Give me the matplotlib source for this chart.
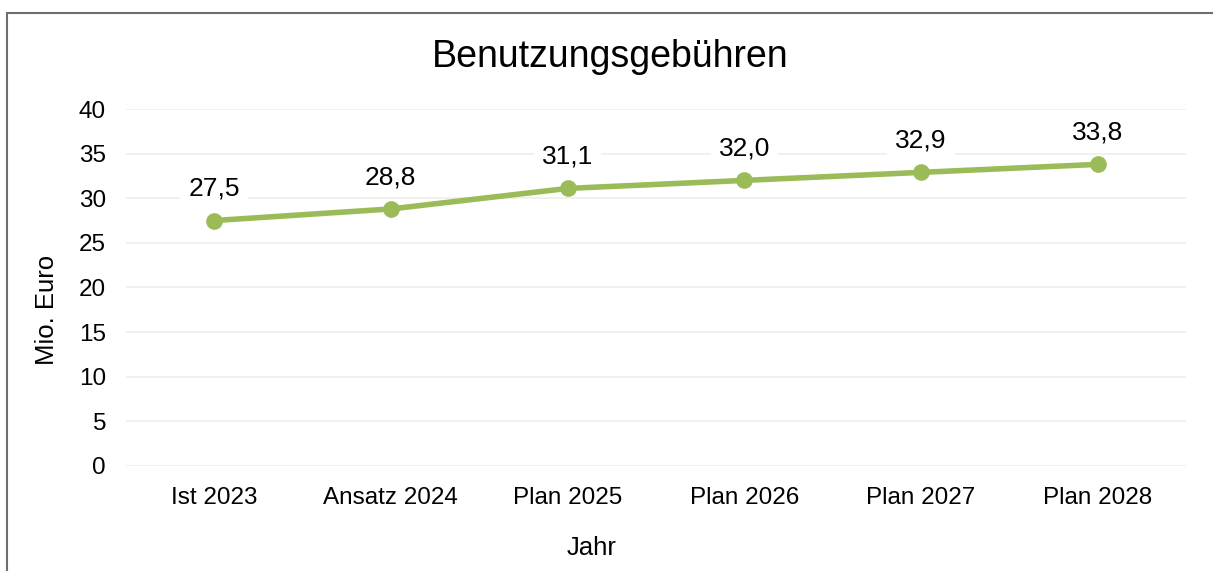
import matplotlib.pyplot as plt
from matplotlib.patches import Rectangle

# Daten
jahre = ['Ist 2023', 'Ansatz 2024', 'Plan 2025', 'Plan 2026', 'Plan 2027', 'Plan 2028']
werte = [27.5, 28.8, 31.1, 32.0, 32.9, 33.8]
y_ticks = [0, 5, 10, 15, 20, 25, 30, 35, 40]

plt.rcParams['font.family'] = ['Liberation Sans', 'DejaVu Sans']

fig = plt.figure(figsize=(12.13, 5.71), dpi=100)
ax = fig.add_axes([0.1035, 0.1839, 0.8745, 0.6252])

# Rahmen um das Diagramm (rechts/unten abgeschnitten)
fig.patches.append(Rectangle((7 / 1213, -0.05), 1.2, 1 - 13 / 571 + 0.05,
                             transform=fig.transFigure, fill=False,
                             edgecolor='#6e6e6e', linewidth=1.5))

x = list(range(len(jahre)))
ax.plot(x, werte, color='#9BBB59', linewidth=4, marker='o', markersize=11,
        solid_capstyle='round', zorder=3)

for xi, w in zip(x, werte):
    ax.annotate(f'{w:.1f}'.replace('.', ','), (xi, w), xytext=(0, 23),
                textcoords='offset points', ha='center', va='center',
                fontsize=19, color='black',
                bbox=dict(boxstyle='square,pad=0.3', fc='white', ec='none'),
                zorder=4)

ax.set_xlim(-0.5, len(jahre) - 0.5)
ax.set_ylim(0, 40)
ax.set_yticks(y_ticks)
ax.set_xticks(x)
ax.set_xticklabels(jahre)
ax.tick_params(axis='both', length=0, labelsize=17.5)
ax.tick_params(axis='y', pad=14)
ax.tick_params(axis='x', pad=15)
ax.grid(axis='y', color='#EFEFE7', linewidth=1.2)
ax.set_axisbelow(True)
for s in ax.spines.values():
    s.set_visible(False)

# Achsentitel
fig.text(47 / 1213, 1 - 310 / 571, 'Mio. Euro', rotation=90, ha='center', va='center', fontsize=18.5)
fig.text(592 / 1213, 1 - 548 / 571, 'Jahr', ha='center', va='center', fontsize=18.5)
fig.text(610 / 1213, 1 - 57 / 571, 'Benutzungsgebühren', ha='center', va='center', fontsize=27)

fig.savefig('out.png', dpi=100)
